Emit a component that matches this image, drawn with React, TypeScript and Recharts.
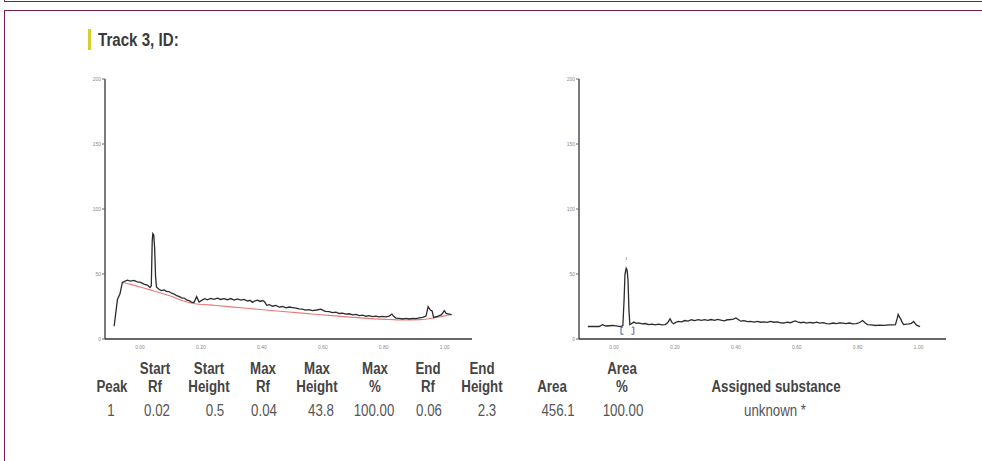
import React from "react";
import { LineChart, Line, XAxis, YAxis, ReferenceDot } from "recharts";

// left track: raw scan (Rf vs signal) and its fitted baseline
const rawRf = [
  -0.085, -0.074, -0.066, -0.058, -0.042, -0.031, -0.02, -0.009, 0.002, 0.013, 0.024, 0.033, 0.037,
  0.04, 0.042, 0.045, 0.048, 0.051, 0.054, 0.062, 0.07, 0.079, 0.087, 0.095, 0.104, 0.112, 0.12,
  0.128, 0.136, 0.145, 0.153, 0.161, 0.169, 0.177, 0.186, 0.194, 0.205, 0.213, 0.221, 0.232, 0.243,
  0.254, 0.265, 0.276, 0.287, 0.298, 0.309, 0.32, 0.331, 0.342, 0.353, 0.361, 0.369, 0.378, 0.386,
  0.394, 0.402, 0.409, 0.416, 0.425, 0.435, 0.446, 0.457, 0.468, 0.479, 0.49, 0.501, 0.512, 0.522,
  0.533, 0.544, 0.555, 0.566, 0.58, 0.594, 0.602, 0.61, 0.621, 0.632, 0.643, 0.654, 0.665, 0.676,
  0.687, 0.698, 0.709, 0.72, 0.731, 0.742, 0.752, 0.763, 0.774, 0.785, 0.796, 0.807, 0.818, 0.827,
  0.833, 0.84, 0.851, 0.862, 0.873, 0.884, 0.895, 0.906, 0.917, 0.928, 0.939, 0.946, 0.953, 0.959,
  0.964, 0.977, 0.99, 0.999, 1.005, 1.015, 1.023,
];
const rawSignal = [
  9.8, 30.6, 34.5, 43.5, 45.3, 44.6, 45.1, 44.0, 43.5, 42.2, 41.5, 39.6, 41, 75, 81, 80, 70, 48, 40,
  38.3, 37.2, 37.8, 36.6, 36.5, 35.2, 34.6, 33.4, 32.8, 31.6, 31.5, 30.0, 29.5, 28.4, 28.1, 32.6,
  28.5, 30.1, 31.0, 30.2, 31.2, 30.5, 31.4, 30.4, 31.0, 30.2, 31.1, 30.0, 30.8, 29.9, 30.5, 29.2,
  29.8, 28.2, 29.4, 29.9, 28.9, 29.6, 28.6, 25.9, 26.4, 25.2, 25.8, 24.6, 25.0, 24.0, 24.6, 24.2,
  23.8, 23.2, 23.0, 22.2, 22.6, 21.9, 22.3, 22.9, 21.8, 21.2, 21.0, 20.3, 20.6, 19.6, 19.9, 19.1,
  19.4, 18.6, 18.9, 18.0, 18.3, 17.5, 17.9, 17.2, 17.6, 17.0, 17.4, 17.0, 17.6, 19.2, 17.4, 16.1,
  15.8, 15.4, 15.8, 15.4, 15.9, 15.7, 16.2, 16.7, 17.6, 24.9, 22.3, 21.5, 16.6, 17.4, 18.7, 21.8,
  19.7, 19.2, 18.7,
];
const baseRf = [
  -0.058, -0.03, 0.0, 0.03, 0.06, 0.1, 0.14, 0.17, 0.25, 0.35, 0.45, 0.55, 0.65, 0.75, 0.82, 0.87,
  0.92, 0.96, 1.0, 1.023,
];
const baseSignal = [
  43.5, 42, 40, 38, 36, 33, 29.5, 27.5, 25.8, 23.6, 21.5, 19.5, 17.6, 15.9, 15.0, 14.6, 14.9, 16,
  17.8, 18.6,
];

// right track: baseline corrected scan
const corrRf = [
  -0.086, -0.049, -0.038, -0.027, -0.005, 0.022, 0.029, 0.033, 0.036, 0.04, 0.043, 0.046, 0.049,
  0.052, 0.065, 0.073, 0.081, 0.092, 0.103, 0.114, 0.125, 0.135, 0.146, 0.157, 0.168, 0.176, 0.184,
  0.19, 0.195, 0.203, 0.211, 0.222, 0.232, 0.243, 0.254, 0.265, 0.276, 0.287, 0.297, 0.308, 0.319,
  0.33, 0.34, 0.351, 0.362, 0.372, 0.383, 0.392, 0.4, 0.408, 0.416, 0.427, 0.438, 0.449, 0.46,
  0.471, 0.482, 0.492, 0.503, 0.514, 0.525, 0.536, 0.547, 0.557, 0.568, 0.579, 0.588, 0.595, 0.605,
  0.614, 0.623, 0.632, 0.643, 0.654, 0.665, 0.676, 0.687, 0.698, 0.708, 0.719, 0.73, 0.741, 0.751,
  0.762, 0.773, 0.784, 0.795, 0.805, 0.816, 0.824, 0.832, 0.845, 0.859, 0.872, 0.886, 0.903, 0.914,
  0.924, 0.93, 0.933, 0.937, 0.941, 0.946, 0.951, 0.96, 0.968, 0.976, 0.984, 0.99, 0.995, 1.005,
];
const corrSignal = [
  9.6, 9.6, 11, 10, 10.4, 9.6, 10.4, 30, 50, 54.4, 53, 45, 22, 11, 13, 12.0, 12.4, 11.6, 11.9, 11.0,
  11.5, 10.9, 11.4, 10.8, 11.1, 12.5, 15.5, 12.8, 11.7, 12.8, 13.5, 13.2, 14.2, 13.8, 14.8, 14.2,
  14.9, 14.4, 14.9, 14.3, 15.0, 14.4, 15.1, 14.5, 14.0, 14.8, 15.0, 15.3, 16.2, 15.0, 13.7, 14.1,
  13.3, 13.6, 13.0, 13.6, 12.9, 13.2, 12.8, 13.6, 12.9, 13.2, 12.4, 12.3, 12.9, 12.5, 13.4, 13.9,
  12.9, 12.5, 12.9, 12.2, 12.8, 12.3, 13.0, 12.2, 12.6, 11.8, 11.7, 12.3, 11.8, 12.4, 12.2, 11.8,
  12.3, 11.7, 11.8, 12.5, 14.2, 12.5, 11.1, 10.8, 10.4, 10.7, 10.5, 10.9, 10.8, 11.1, 16, 18.9, 17,
  15.5, 13, 11.1, 11.4, 11.7, 12.1, 13.5, 11.5, 10.4, 9.6,
];

const yTicks = [0, 50, 100, 150, 200];
const xTicks = [0, 0.2, 0.4, 0.6, 0.8, 1.0];
const peakLabel = "1";
const peakRf = 0.04;
const peakTop = 57;
const peakStartRf = 0.023;
const peakEndRf = 0.065;
const bracketLevel = 6;

// result table
const headTop = ["", "Start", "Start", "Max", "Max", "Max", "End", "End", "", "Area", ""];
const headBottom = ["Peak", "Rf", "Height", "Rf", "Height", "%", "Rf", "Height", "Area", "%", "Assigned substance"];
const peakRow = ["1", "0.02", "0.5", "0.04", "43.8", "100.00", "0.06", "2.3", "456.1", "100.00", "unknown *"];

const headX = [112, 155, 209, 263, 317, 375, 428, 482, 552, 622, 776];
const cellX = [111, 157, 215, 264, 321, 374, 429, 487, 558, 623, 775];

const toPts = (xs: number[], ys: number[]) => xs.map((rf, i) => ({ rf, v: ys[i] }));

const FONT = '"Liberation Sans", Arial, sans-serif';

function Txt({ x, y, text, bold, size = 16, color = "#444" }: any) {
  return (
    <div
      style={{
        position: "absolute",
        left: x,
        top: y,
        transform: "translate(-50%, -50%) scaleX(0.83)",
        whiteSpace: "nowrap",
        fontFamily: FONT,
        fontSize: size,
        fontWeight: bold ? 700 : 400,
        color,
        lineHeight: 1,
      }}
    >
      {text}
    </div>
  );
}

function Bracket(props: any) {
  const { cx, cy, side } = props;
  const d = side === "l" ? 1 : -1;
  return (
    <path
      d={`M${cx + 2 * d},${cy - 4} L${cx},${cy - 4} L${cx},${cy + 3} L${cx + 2.5 * d},${cy + 3}`}
      stroke="#4a5bb0"
      strokeWidth={1}
      fill="none"
    />
  );
}

function Track({ left, children }: any) {
  const tick = { fontSize: 5, fill: "#8a8a8a", fontFamily: "Liberation Sans, Arial" };
  return (
    <div style={{ position: "absolute", left, top: 60 }}>
      <LineChart width={420} height={299} margin={{ top: 19, right: 8, bottom: 0, left: 0 }}>
        <XAxis
          type="number"
          dataKey="rf"
          domain={[-0.115, 1.09]}
          ticks={xTicks}
          tickFormatter={(v: number) => v.toFixed(2)}
          allowDataOverflow
          height={20}
          tickLine={false}
          tickSize={3}
          tickMargin={3}
          tick={tick}
          axisLine={{ stroke: "#333", strokeWidth: 1.3 }}
        />
        <YAxis
          type="number"
          domain={[0, 200]}
          ticks={yTicks}
          width={45}
          tickSize={3}
          tickMargin={1}
          tick={tick}
          tickLine={{ stroke: "#666" }}
          axisLine={{ stroke: "#333", strokeWidth: 1.3 }}
        />
        {children}
      </LineChart>
    </div>
  );
}

export default function App() {
  return (
    <div
      style={{
        position: "absolute",
        left: 0,
        top: 0,
        width: 982,
        height: 461,
        overflow: "hidden",
        background: "#fff",
      }}
    >
      <div
        style={{
          position: "absolute",
          left: 4,
          top: -20,
          width: 1000,
          height: 20,
          border: "1.5px solid #7b1d4d",
        }}
      />
      <div
        style={{
          position: "absolute",
          left: 4,
          top: 10,
          width: 1000,
          height: 480,
          border: "1.5px solid #7b1d4d",
        }}
      />
      <div style={{ position: "absolute", left: 88, top: 29, width: 3, height: 21, background: "#d4cf2e" }} />
      <div
        style={{
          position: "absolute",
          left: 98,
          top: 31,
          fontFamily: FONT,
          fontWeight: 700,
          fontSize: 18,
          color: "#3a3a3a",
          lineHeight: 1,
          whiteSpace: "nowrap",
          transform: "scaleX(0.84)",
          transformOrigin: "left center",
        }}
      >
        Track 3, ID:
      </div>

      <Track left={60}>
        <Line
          data={toPts(baseRf, baseSignal)}
          dataKey="v"
          type="monotone"
          stroke="#e77a7a"
          strokeWidth={1.1}
          dot={false}
          isAnimationActive={false}
        />
        <Line
          data={toPts(rawRf, rawSignal)}
          dataKey="v"
          type="linear"
          stroke="#2b2b2b"
          strokeWidth={1.3}
          dot={false}
          isAnimationActive={false}
        />
      </Track>

      <Track left={534}>
        <Line
          data={toPts(corrRf, corrSignal)}
          dataKey="v"
          type="linear"
          stroke="#2b2b2b"
          strokeWidth={1.3}
          dot={false}
          isAnimationActive={false}
        />
        <ReferenceDot
          x={peakRf}
          y={peakTop}
          r={0}
          label={{ value: peakLabel, position: "top", fontSize: 5, fill: "#555" }}
        />
        <ReferenceDot x={peakStartRf} y={bracketLevel} shape={(p: any) => <Bracket {...p} side="l" />} />
        <ReferenceDot x={peakEndRf} y={bracketLevel} shape={(p: any) => <Bracket {...p} side="r" />} />
      </Track>

      {headTop.map((t, i) =>
        t ? <Txt key={"a" + i} x={headX[i]} y={369} text={t} bold /> : null
      )}
      {headBottom.map((t, i) => (
        <Txt key={"b" + i} x={headX[i]} y={387} text={t} bold />
      ))}
      {peakRow.map((t, i) => (
        <Txt key={"c" + i} x={cellX[i]} y={411} text={t} color="#555" />
      ))}
    </div>
  );
}
